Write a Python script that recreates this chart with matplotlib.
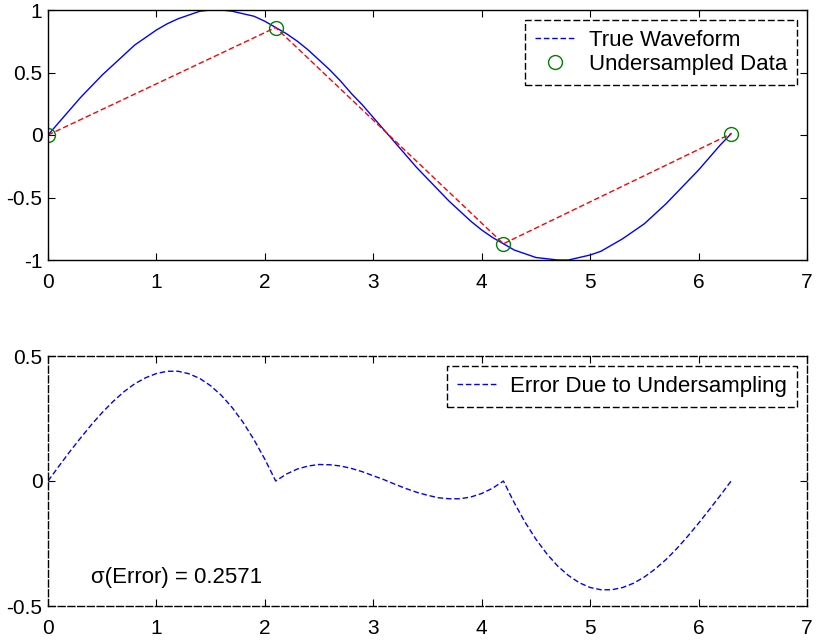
import matplotlib
matplotlib.use("Agg")
import matplotlib.pyplot as plt
from matplotlib.lines import Line2D
import numpy as np

plt.rcParams['font.family'] = ['Liberation Sans', 'DejaVu Sans']

# time axis (0 .. 6.3 step 0.1)
t = [round(0.1 * i, 1) for i in range(64)]

true_wave = [0.00, 0.10, 0.20, 0.30, 0.39, 0.48, 0.56, 0.64, 0.72, 0.78,
             0.84, 0.89, 0.93, 0.96, 0.99, 1.00, 1.00, 0.99, 0.97, 0.95,
             0.91, 0.86, 0.81, 0.75, 0.68, 0.60, 0.52, 0.43, 0.33, 0.24,
             0.14, 0.04, -0.06, -0.16, -0.26, -0.35, -0.44, -0.53, -0.61, -0.69,
             -0.76, -0.82, -0.87, -0.92, -0.95, -0.98, -0.99, -1.00, -1.00, -0.98,
             -0.96, -0.93, -0.88, -0.83, -0.77, -0.71, -0.63, -0.55, -0.46, -0.37,
             -0.28, -0.18, -0.08, 0.01]

sample_t = [0.0, 2.1, 4.2, 6.3]
sample_v = [0.00, 0.86, -0.87, 0.01]

error = [0.000, 0.059, 0.117, 0.172, 0.225, 0.274, 0.318, 0.357, 0.389, 0.413,
         0.430, 0.439, 0.439, 0.429, 0.410, 0.381, 0.342, 0.293, 0.234, 0.165,
         0.087, 0.000, 0.028, 0.048, 0.060, 0.066, 0.065, 0.060, 0.050, 0.037,
         0.021, 0.005, -0.013, -0.030, -0.045, -0.057, -0.067, -0.071, -0.071, -0.064,
         -0.050, -0.029, 0.000, -0.087, -0.165, -0.233, -0.291, -0.340, -0.378, -0.407,
         -0.426, -0.435, -0.435, -0.426, -0.409, -0.384, -0.352, -0.314, -0.270, -0.221,
         -0.169, -0.114, -0.058, 0.000]

sigma_text = "σ(Error) = 0.2571"

xticks = [0, 1, 2, 3, 4, 5, 6, 7]
top_yticks = [-1, -0.5, 0, 0.5, 1]
top_ylabels = ['-1', '-0.5', '0', '0.5', '1']
bot_yticks = [-0.5, 0, 0.5]
bot_ylabels = ['-0.5', '0', '0.5']

FS = 15
LFS = 16
fig = plt.figure(figsize=(8.17, 6.44), dpi=100)
ax1 = fig.add_axes([48/817, (644-260)/644, 759/817, 250/644])
ax2 = fig.add_axes([48/817, (644-606)/644, 759/817, 250/644])

dash = (4, 2)
leg_kw = dict(loc='upper right', fontsize=LFS, fancybox=False, framealpha=1,
              edgecolor='black', borderaxespad=0.45, handlelength=1.8,
              labelspacing=0.12, borderpad=0.45, handletextpad=0.6)

ax1.plot(t, true_wave, color='blue', lw=1.0)
ax1.plot(sample_t, sample_v, color='red', lw=1.0, linestyle=(0, dash))
ax1.plot(sample_t, sample_v, linestyle='none', marker='o', mfc='none',
         mec='green', ms=10, mew=1.0)
ax1.set_xlim(0, 7)
ax1.set_ylim(-1, 1)
ax1.set_yticks(top_yticks)
ax1.set_yticklabels(top_ylabels)

h1 = [Line2D([], [], color='blue', lw=1.0, linestyle=(0, dash)),
      Line2D([], [], linestyle='none', marker='o', mfc='none', mec='green',
             ms=10, mew=1.0)]
leg1 = ax1.legend(h1, ['True Waveform', 'Undersampled Data'], **leg_kw)
leg1.get_frame().set_linestyle((0, (5, 2)))
leg1.get_frame().set_linewidth(1.0)

ax2.plot(t, error, color='blue', lw=1.0, linestyle=(0, dash))
ax2.set_xlim(0, 7)
ax2.set_ylim(-0.5, 0.5)
ax2.set_yticks(bot_yticks)
ax2.set_yticklabels(bot_ylabels)
ax2.text(0.4, -0.385, sigma_text, fontsize=LFS, va='center', ha='left')
h2 = [Line2D([], [], color='blue', lw=1.0, linestyle=(0, dash))]
leg2 = ax2.legend(h2, ['Error Due to Undersampling'], **leg_kw)
leg2.get_frame().set_linestyle((0, (5, 2)))
leg2.get_frame().set_linewidth(1.0)
for sp in ax2.spines.values():
    sp.set_linestyle((0, (5, 2)))

for ax in (ax1, ax2):
    ax.set_xticks(xticks)
    ax.set_xticklabels([str(v) for v in xticks])
    ax.tick_params(direction='in', top=True, right=True, length=5,
                   labelsize=FS)
    ax.tick_params(axis='x', pad=9)
    ax.tick_params(axis='y', pad=4)
    for sp in ax.spines.values():
        sp.set_linewidth(1.0)

fig.savefig('out.png', dpi=100)
